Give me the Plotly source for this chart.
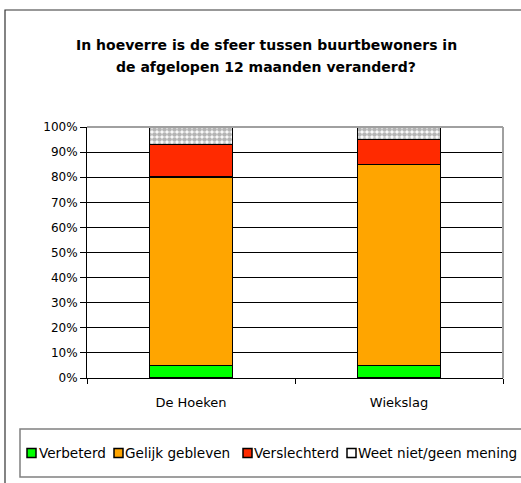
import plotly.graph_objects as go

categories = ["De Hoeken", "Wiekslag"]
series_names = ["Verbeterd", "Gelijk gebleven", "Verslechterd", "Weet niet/geen mening"]
verbeterd = [0.05, 0.05]
gelijk_gebleven = [0.75, 0.80]
verslechterd = [0.13, 0.10]
weet_niet = [0.07, 0.05]
y_ticks = [0, 0.1, 0.2, 0.3, 0.4, 0.5, 0.6, 0.7, 0.8, 0.9, 1.0]
title_lines = ["In hoeverre is de sfeer tussen buurtbewoners in",
               "de afgelopen 12 maanden veranderd?"]
colors = ["#00ff00", "#ffa500", "#ff2a00", "#ffffff"]

W, H = 521, 483
L, R, T, B = 87, 18, 127, 105
PW, PH = W - L - R, H - T - B

def px_x(px):
    return (px - L) / PW

def px_y(py):
    return (H - B - py) / PH

FONT = "DejaVu Sans"

fig = go.Figure()
values = [verbeterd, gelijk_gebleven, verslechterd, weet_niet]
for i, (name, vals) in enumerate(zip(series_names, values)):
    marker = dict(color=colors[i], line=dict(color="black", width=1.5))
    if i == 3:
        marker["pattern"] = dict(shape=".", fgcolor="#b4b4b4", bgcolor="#ffffff",
                                 size=5, solidity=0.7, fillmode="replace")
    fig.add_trace(go.Bar(name=name, x=categories, y=vals, marker=marker,
                         width=0.4, showlegend=False))

shapes = [
    # outer frame
    dict(type="rect", xref="paper", yref="paper", x0=px_x(5), x1=px_x(540),
         y0=px_y(495), y1=px_y(10), line=dict(color="#333333", width=1.2)),
    # legend box
    dict(type="rect", xref="paper", yref="paper", x0=px_x(20), x1=px_x(540),
         y0=px_y(477), y1=px_y(429), line=dict(color="#808080", width=1.5)),
    # plot-area gray border (top and right)
    dict(type="line", xref="paper", yref="paper", x0=0, x1=1, y0=1, y1=1,
         line=dict(color="#a0a0a0", width=2)),
    dict(type="line", xref="paper", yref="paper", x0=1, x1=1, y0=0, y1=1,
         line=dict(color="#a0a0a0", width=2)),
]

annotations = []
# title as two lines (wider line spacing than plotly's default)
for line, ypx in zip(title_lines, [45, 67]):
    annotations.append(dict(text="<b>" + line + "</b>", xref="paper", yref="paper",
                            x=px_x(266), y=px_y(ypx), xanchor="center",
                            yanchor="middle", showarrow=False,
                            font=dict(family=FONT, size=14, color="black")))

swatch_x = [27, 114, 243, 347]
text_x = [37, 123, 252, 356]
for i, name in enumerate(series_names):
    shapes.append(dict(type="rect", xref="paper", yref="paper",
                       x0=px_x(swatch_x[i]), x1=px_x(swatch_x[i] + 9),
                       y0=px_y(457.5), y1=px_y(448.5),
                       fillcolor=colors[i], line=dict(color="black", width=1.5)))
    annotations.append(dict(text=name, xref="paper", yref="paper",
                            x=px_x(text_x[i]), y=px_y(453), xanchor="left",
                            yanchor="middle", showarrow=False,
                            font=dict(family=FONT, size=13.6, color="black")))

fig.update_layout(
    width=W, height=H,
    margin=dict(l=L, r=R, t=T, b=B),
    paper_bgcolor="white", plot_bgcolor="white",
    barmode="stack",
    font=dict(family=FONT, size=13, color="black"),
    showlegend=False,
    shapes=shapes,
    annotations=annotations,
    xaxis=dict(type="category", tickson="boundaries", ticks="outside", ticklen=5,
               tickcolor="black", showline=True, linecolor="black", linewidth=1,
               showgrid=False, ticklabelstandoff=12,
               tickfont=dict(family=FONT, size=13, color="black")),
    yaxis=dict(range=[0, 1], tickvals=y_ticks, tickformat=".0%",
               ticks="outside", ticklen=6, tickcolor="black",
               showline=True, linecolor="black", linewidth=1,
               showgrid=True, gridcolor="black", gridwidth=1, zeroline=False,
               tickfont=dict(family=FONT, size=12, color="black")),
)

fig.write_html("out.html", config={"displayModeBar": False},
               post_script="document.body.style.margin='0px';document.body.style.overflow='hidden';")
